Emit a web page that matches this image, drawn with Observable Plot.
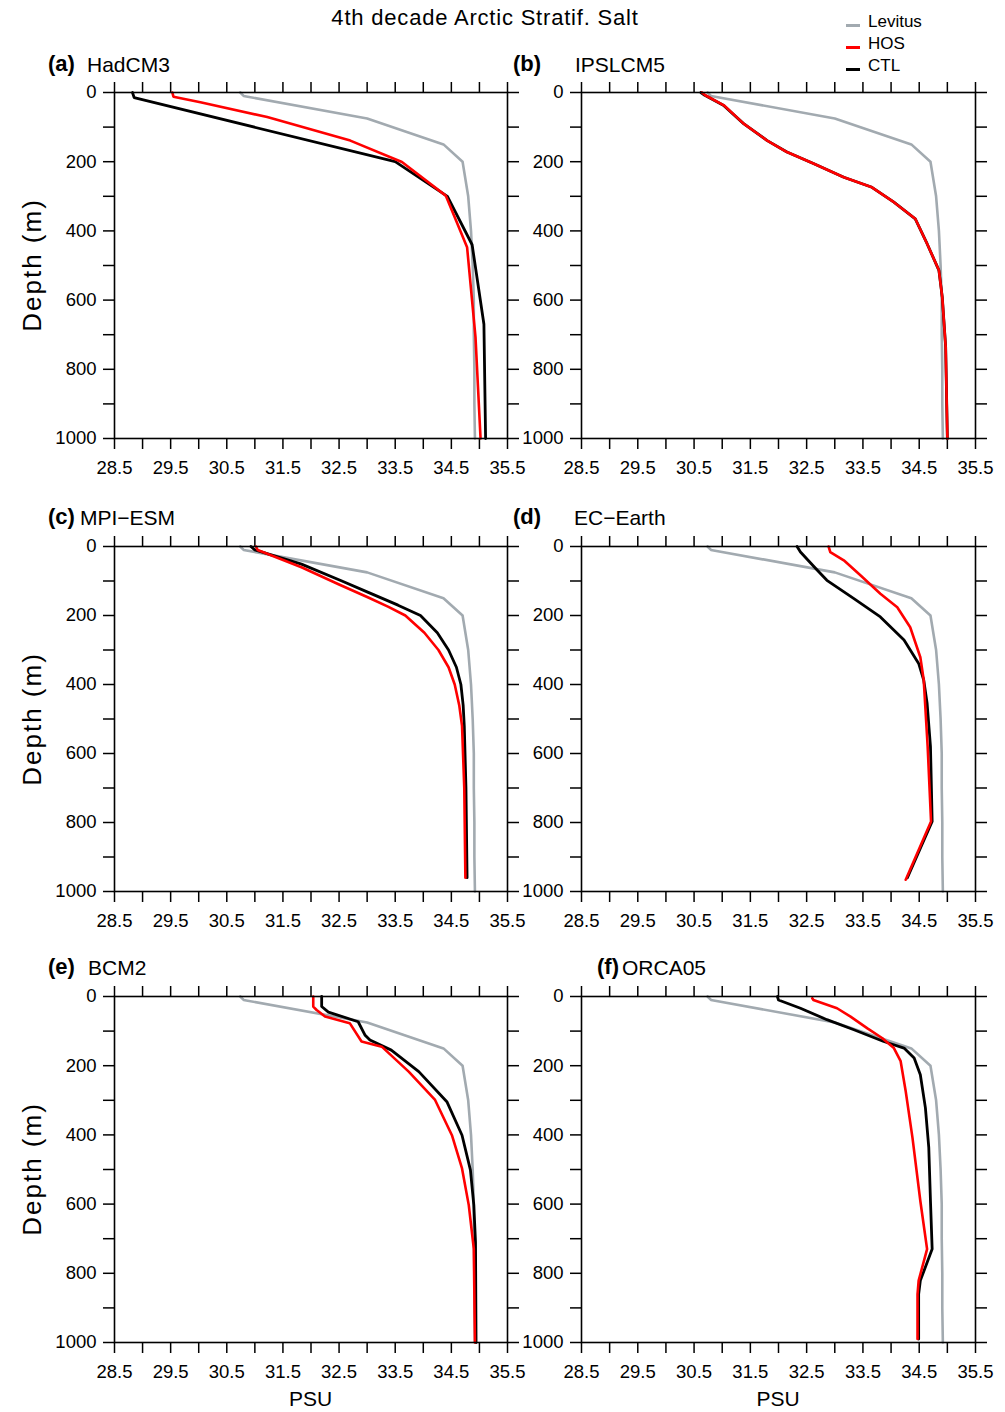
<!DOCTYPE html>
<html><head><meta charset="utf-8">
<script src="https://cdn.jsdelivr.net/npm/d3@7"></script>
<script src="https://cdn.jsdelivr.net/npm/@observablehq/plot@0.6"></script>
<style>
body{margin:0;background:#fff;}
#root{position:relative;width:1005px;height:1412px;font-family:"Liberation Sans",Arial,sans-serif;color:#000;overflow:hidden;background:#fff}
.abs{position:absolute;white-space:nowrap;line-height:1}
.plot{position:absolute}
</style></head><body><div id="root"></div>
<script>
// ---- text ----
const title = "4th decade Arctic Stratif. Salt";
const seriesNames = ["Levitus", "HOS", "CTL"];
const seriesColors = ["#a2aab0", "#ff0000", "#000000"];
const panelTags = ["(a)", "(b)", "(c)", "(d)", "(e)", "(f)"];
const modelNames = ["HadCM3", "IPSLCM5", "MPI\u2212ESM", "EC\u2212Earth", "BCM2", "ORCA05"];
const yAxisTitle = "Depth (m)";
const xAxisTitle = "PSU";

// ---- ticks ----
const xTickValues = [28.5, 29, 29.5, 30, 30.5, 31, 31.5, 32, 32.5, 33, 33.5, 34, 34.5, 35, 35.5];
const xTickLabels = ["28.5", "29.5", "30.5", "31.5", "32.5", "33.5", "34.5", "35.5"];
const yTickValues = [0, 100, 200, 300, 400, 500, 600, 700, 800, 900, 1000];
const yTickLabels = ["0", "200", "400", "600", "800", "1000"];

// ---- Levitus climatology (same in every panel) ----
const levDepth = [0, 10, 75, 150, 200, 300, 400, 500, 600, 700, 800, 900, 1000];
const levSalt  = [30.74, 30.8, 33.0, 34.36, 34.7, 34.8, 34.85, 34.88, 34.9, 34.9, 34.91, 34.91, 34.92];

// ---- (a) HadCM3 ----
const hadCtlDepth = [0, 15, 200, 300, 440, 670, 1000];
const hadCtlSalt  = [28.82, 28.85, 33.5, 34.43, 34.87, 35.08, 35.11];
const hadHosDepth = [0, 12, 28, 71, 139, 201, 298, 447, 707, 1000];
const hadHosSalt  = [29.53, 29.55, 30.03, 31.22, 32.70, 33.62, 34.40, 34.78, 34.93, 35.02];

// ---- (b) IPSLCM5 ----
const ipslCtlDepth = [0, 8, 37, 90, 139, 172, 206, 245, 274, 317, 365, 437, 514, 592, 736, 1000];
const ipslCtlSalt  = [30.62, 30.69, 31.02, 31.38, 31.80, 32.15, 32.63, 33.16, 33.66, 34.05, 34.43, 34.64, 34.85, 34.91, 34.97, 35.0];
const ipslHosDepth = [0, 8, 37, 90, 139, 172, 206, 245, 274, 317, 365, 437, 514, 592, 736, 1000];
const ipslHosSalt  = [30.64, 30.70, 31.03, 31.38, 31.80, 32.15, 32.63, 33.16, 33.66, 34.05, 34.43, 34.64, 34.85, 34.91, 34.97, 35.0];

// ---- (c) MPI-ESM ----
const mpiCtlDepth = [0, 10, 51, 100, 133, 170, 200, 250, 300, 350, 400, 460, 520, 700, 960];
const mpiCtlSalt  = [30.93, 31.0, 31.83, 32.55, 33.02, 33.55, 33.95, 34.25, 34.45, 34.59, 34.67, 34.71, 34.73, 34.76, 34.78];
const mpiHosDepth = [0, 10, 60, 110, 148, 175, 200, 250, 300, 350, 400, 460, 520, 700, 960];
const mpiHosSalt  = [31.02, 31.05, 31.83, 32.5, 33.02, 33.38, 33.68, 34.02, 34.27, 34.45, 34.56, 34.64, 34.69, 34.73, 34.75];

// ---- (d) EC-Earth ----
const ecCtlDepth = [0, 16, 69, 98, 151, 204, 271, 339, 387, 454, 580, 797, 960];
const ecCtlSalt  = [32.33, 32.39, 32.69, 32.86, 33.34, 33.81, 34.23, 34.49, 34.58, 34.64, 34.70, 34.73, 34.29];
const ecHosDepth = [0, 16, 40, 84, 137, 176, 234, 321, 387, 580, 797, 966];
const ecHosSalt  = [32.89, 32.92, 33.16, 33.46, 33.81, 34.11, 34.34, 34.52, 34.58, 34.65, 34.71, 34.26];

// ---- (e) BCM2 ----
const bcmCtlDepth = [0, 29, 45, 73, 111, 126, 155, 217, 304, 401, 502, 603, 709, 1000];
const bcmCtlSalt  = [32.19, 32.19, 32.31, 32.84, 32.96, 33.05, 33.43, 33.92, 34.42, 34.69, 34.84, 34.90, 34.93, 34.94];
const bcmHosDepth = [0, 29, 39, 58, 77, 130, 145, 217, 299, 401, 497, 603, 729, 1000];
const bcmHosSalt  = [32.04, 32.04, 32.10, 32.25, 32.69, 32.90, 33.26, 33.74, 34.21, 34.51, 34.69, 34.81, 34.90, 34.92];

// ---- (f) ORCA05 ----
const orcaCtlDepth = [0, 10, 34, 67, 96, 130, 149, 178, 226, 322, 437, 591, 730, 821, 860, 990];
const orcaCtlSalt  = [31.98, 32.0, 32.39, 32.86, 33.34, 33.87, 34.23, 34.41, 34.52, 34.61, 34.67, 34.70, 34.73, 34.52, 34.49, 34.49];
const orcaHosDepth = [5, 10, 34, 58, 92, 120, 149, 187, 274, 408, 591, 730, 821, 860, 990];
const orcaHosSalt  = [32.60, 32.62, 33.04, 33.28, 33.58, 33.84, 34.05, 34.17, 34.26, 34.38, 34.52, 34.64, 34.49, 34.47, 34.47];

// ---- build ----
const toRows = (depth, salt) => depth.map((d, i) => ({d, s: salt[i]}));
const levRows = toRows(levDepth, levSalt);
const panels = [
  {ctl: toRows(hadCtlDepth, hadCtlSalt), hos: toRows(hadHosDepth, hadHosSalt)},
  {ctl: toRows(ipslCtlDepth, ipslCtlSalt), hos: toRows(ipslHosDepth, ipslHosSalt)},
  {ctl: toRows(mpiCtlDepth, mpiCtlSalt), hos: toRows(mpiHosDepth, mpiHosSalt)},
  {ctl: toRows(ecCtlDepth, ecCtlSalt), hos: toRows(ecHosDepth, ecHosSalt)},
  {ctl: toRows(bcmCtlDepth, bcmCtlSalt), hos: toRows(bcmHosDepth, bcmHosSalt)},
  {ctl: toRows(orcaCtlDepth, orcaCtlSalt), hos: toRows(orcaHosDepth, orcaHosSalt)}
];

const root = document.getElementById("root");
function addText(txt, left, top, css) {
  const el = document.createElement("div");
  el.className = "abs";
  el.textContent = txt;
  el.style.left = left + "px";
  el.style.top = top + "px";
  Object.assign(el.style, css || {});
  root.appendChild(el);
  return el;
}

// layout
const colLeft = [114, 581], colWidth = [393, 394];
const rowTop = [92, 546, 996], rowHeight = [346, 345, 346];
const mL = 70, mR = 28, mT = 22, mB = 44;
const fontFam = '"Liberation Sans", Arial, sans-serif';

const xFmt = d => xTickLabels.find(l => +l === d) ?? "";
const yFmt = d => yTickLabels.find(l => +l === d) ?? "";
const blank = () => "";

panels.forEach((p, i) => {
  const c = i % 2, r = Math.floor(i / 2);
  const chart = Plot.plot({
    width: mL + colWidth[c] + mR,
    height: mT + rowHeight[r] + mB,
    marginLeft: mL, marginRight: mR, marginTop: mT, marginBottom: mB,
    x: {domain: [28.5, 35.5]},
    y: {domain: [0, 1000], reverse: true},
    style: {fontFamily: fontFam, fontSize: "18.5px", color: "#000", background: "transparent", overflow: "visible"},
    marks: [
      Plot.axisX({anchor: "bottom", ticks: xTickValues, tickSize: 11, tickPadding: 11, tickFormat: xFmt, label: null, strokeWidth: 1.5}),
      Plot.axisX({anchor: "top", ticks: xTickValues, tickSize: 11, tickFormat: blank, label: null, strokeWidth: 1.5}),
      Plot.axisY({anchor: "left", ticks: yTickValues, tickSize: 11, tickPadding: 7, tickFormat: yFmt, label: null, strokeWidth: 1.5}),
      Plot.axisY({anchor: "right", ticks: yTickValues, tickSize: 11, tickFormat: blank, label: null, strokeWidth: 1.5}),
      Plot.line(levRows, {x: "s", y: "d", stroke: seriesColors[0], strokeWidth: 2.6}),
      Plot.line(p.ctl, {x: "s", y: "d", stroke: seriesColors[2], strokeWidth: 2.8}),
      Plot.line(p.hos, {x: "s", y: "d", stroke: seriesColors[1], strokeWidth: 2.6}),
      Plot.frame({stroke: "#000", strokeWidth: 1.6})
    ]
  });
  chart.classList.add("plot");
  chart.style.left = (colLeft[c] - mL) + "px";
  chart.style.top = (rowTop[r] - mT) + "px";
  root.appendChild(chart);
});

// title
addText(title, 0, 7, {width: "970px", textAlign: "center", fontSize: "22px", letterSpacing: "0.8px"});

// legend
seriesNames.forEach((n, i) => {
  const y = 13 + i * 22;
  const dash = document.createElement("div");
  dash.className = "abs";
  Object.assign(dash.style, {left: "846px", top: (y + 11) + "px", width: "14px", height: "3px", background: seriesColors[i]});
  root.appendChild(dash);
  addText(n, 868, y, {fontSize: "17px"});
});

// panel labels
const tagPos = [[48, 53], [513, 53], [48, 506], [513, 506], [48, 956], [597, 956]];
const namePos = [[87, 54], [575, 54], [80, 507], [574, 507], [88, 957], [622, 957]];
panels.forEach((p, i) => {
  addText(panelTags[i], tagPos[i][0], tagPos[i][1], {fontSize: "22px", fontWeight: "bold"});
  addText(modelNames[i], namePos[i][0], namePos[i][1], {fontSize: "21px"});
});

// y-axis titles (left column)
[0, 1, 2].forEach(r => {
  const cy = rowTop[r] + rowHeight[r] / 2;
  addText(yAxisTitle, 32, cy, {fontSize: "26px", letterSpacing: "2px", transform: "translate(-50%,-50%) rotate(-90deg)", transformOrigin: "center"});
});
// x-axis titles (bottom row)
[0, 1].forEach(c => {
  const cx = colLeft[c] + colWidth[c] / 2;
  addText(xAxisTitle, cx, 1388, {fontSize: "21px", transform: "translateX(-50%)"});
});
</script></body></html>
